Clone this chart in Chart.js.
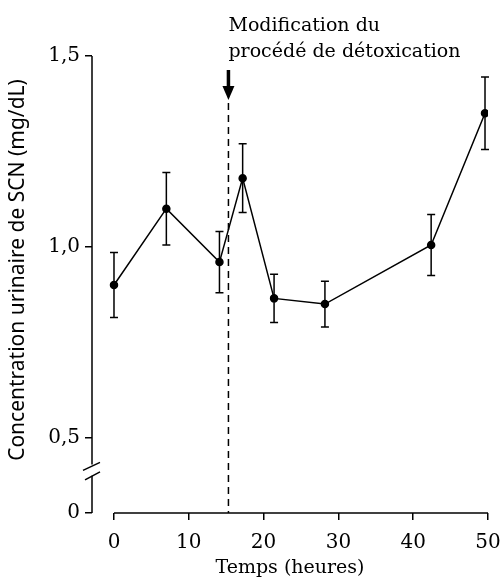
<!DOCTYPE html>
<html>
<head>
<meta charset="utf-8">
<script src="https://cdn.jsdelivr.net/npm/chart.js@4/dist/chart.umd.min.js"></script>
<style>
  body { margin: 0; background: #fff; }
  #wrap { width: 503px; height: 579px; position: relative; }
</style>
</head>
<body>
<div id="wrap"><canvas id="scnChart"></canvas></div>
<script>
// valeurs
const hours = [0, 7, 14.1, 17.2, 21.4, 28.2, 42.4, 49.6];
const scn = [0.90, 1.10, 0.96, 1.18, 0.865, 0.85, 1.005, 1.35];
const scnErr = [0.085, 0.095, 0.08, 0.09, 0.063, 0.06, 0.08, 0.095];
const xTicks = [0, 10, 20, 30, 40, 50];
const yTicks = [0.5, 1.0, 1.5];
const changeHour = 15.3;
const noteLines = ['Modification du', 'procédé de détoxication'];
const yTitle = 'Concentration urinaire de SCN (mg/dL)';

const FONT = "'DejaVu Serif', serif";
const Y_ZERO = 0.3027; // bas de l'axe coupé = "0"

// axes, coupure, barres d'erreur, flèche et annotation
const extras = {
  id: 'extras',
  afterDatasetsDraw(chart) {
    const { ctx } = chart;
    const x = chart.scales.x, y = chart.scales.y;
    const ax = x.left;
    ctx.save();
    ctx.strokeStyle = '#000';
    ctx.fillStyle = '#000';
    ctx.lineWidth = 1.5;

    // axe Y avec coupure
    const bTop = y.getPixelForValue(0.43);
    const bBot = y.getPixelForValue(0.40);
    ctx.beginPath();
    ctx.moveTo(ax, y.getPixelForValue(1.5));
    ctx.lineTo(ax, bTop);
    ctx.moveTo(ax, bBot);
    ctx.lineTo(ax, y.getPixelForValue(Y_ZERO));
    ctx.stroke();
    ctx.beginPath();
    ctx.moveTo(ax - 9, bTop + 6); ctx.lineTo(ax + 8, bTop - 2);
    ctx.moveTo(ax - 7, bBot + 4); ctx.lineTo(ax + 8, bBot - 4);
    ctx.stroke();

    // axe X
    ctx.beginPath();
    ctx.moveTo(x.getPixelForValue(0), x.top);
    ctx.lineTo(x.getPixelForValue(50), x.top);
    ctx.stroke();

    // barres d'erreur
    hours.forEach((h, i) => {
      const px = x.getPixelForValue(h);
      const hi = y.getPixelForValue(scn[i] + scnErr[i]);
      const lo = y.getPixelForValue(scn[i] - scnErr[i]);
      ctx.beginPath();
      ctx.moveTo(px, hi); ctx.lineTo(px, lo);
      ctx.moveTo(px - 4, hi); ctx.lineTo(px + 4, hi);
      ctx.moveTo(px - 4, lo); ctx.lineTo(px + 4, lo);
      ctx.stroke();
    });

    // ligne pointillée + flèche
    const dx = x.getPixelForValue(changeHour);
    ctx.setLineDash([7, 5]);
    ctx.beginPath();
    ctx.moveTo(dx, 103);
    ctx.lineTo(dx, x.top);
    ctx.stroke();
    ctx.setLineDash([]);
    ctx.lineWidth = 3.5;
    ctx.beginPath();
    ctx.moveTo(dx, 70); ctx.lineTo(dx, 88);
    ctx.stroke();
    ctx.beginPath();
    ctx.moveTo(dx - 6, 86); ctx.lineTo(dx + 6, 86); ctx.lineTo(dx, 100);
    ctx.closePath();
    ctx.fill();

    // annotation
    ctx.font = '19px ' + FONT;
    ctx.textAlign = 'left';
    ctx.textBaseline = 'alphabetic';
    ctx.fillText(noteLines[0], dx, 31);
    ctx.fillText(noteLines[1], dx, 57);

    // titre de l'axe Y
    ctx.translate(18, 270);
    ctx.rotate(-Math.PI / 2);
    ctx.textAlign = 'center';
    ctx.textBaseline = 'middle';
    ctx.font = "21px 'Noto Sans', sans-serif";
    ctx.fillText(yTitle, 0, 0);
    ctx.restore();
  }
};

new Chart(document.getElementById('scnChart'), {
  type: 'line',
  data: {
    datasets: [{
      data: hours.map((h, i) => ({ x: h, y: scn[i] })),
      borderColor: '#000',
      backgroundColor: '#000',
      borderWidth: 1.5,
      pointRadius: 3.5,
      pointHoverRadius: 3.5,
      tension: 0
    }]
  },
  options: {
    responsive: true,
    maintainAspectRatio: false,
    animation: false,
    layout: { padding: { top: 56, right: 15, left: 0, bottom: 0 } },
    plugins: { legend: { display: false }, tooltip: { enabled: false } },
    scales: {
      x: {
        type: 'linear',
        min: -2.94,
        max: 50,
        afterBuildTicks: s => { s.ticks = xTicks.map(v => ({ value: v })); },
        afterFit: s => { s.height = 66; s.paddingLeft = 0; s.paddingRight = 0; },
        border: { display: false },
        grid: { drawOnChartArea: false, drawTicks: true, tickLength: 7, color: '#000', lineWidth: 1.5 },
        ticks: { color: '#000', font: { family: FONT, size: 20 }, padding: 11, maxRotation: 0 },
        title: {
          display: true, text: 'Temps (heures)', color: '#000',
          font: { family: FONT, size: 19 }, padding: { top: 0, bottom: 0 }
        }
      },
      y: {
        type: 'linear',
        min: Y_ZERO,
        max: 1.5,
        afterBuildTicks: s => { s.ticks = [Y_ZERO, ...yTicks].map(v => ({ value: v })); },
        afterFit: s => { s.width = 92; s.paddingTop = 0; s.paddingBottom = 0; },
        border: { display: false },
        grid: { drawOnChartArea: false, drawTicks: true, tickLength: 7, color: '#000', lineWidth: 1.5 },
        ticks: {
          color: '#000', font: { family: FONT, size: 20 }, padding: 5,
          callback: v => v < 0.4 ? '0' : v.toFixed(1).replace('.', ',')
        }
      }
    }
  },
  plugins: [extras]
});
</script>
</body>
</html>
